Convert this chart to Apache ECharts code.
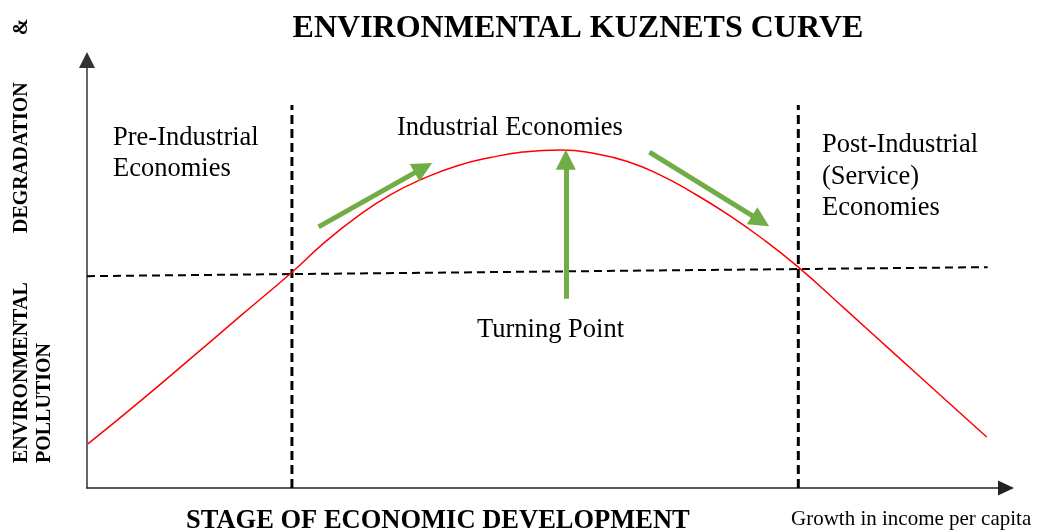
<!DOCTYPE html>
<html><head><meta charset="utf-8">
<script src="https://cdn.jsdelivr.net/npm/echarts@6/dist/echarts.min.js"></script>
<style>html,body{margin:0;padding:0;background:#fff}#c{width:1037px;height:530px}</style>
</head><body><div id="c"></div>
<script>
// Kuznets curve (schematic units: x = income stage 0-100, y = pollution 0-100)
const curveX = [0.1, 5.8, 11.2, 16.7, 22.3, 25.7, 29.4, 33.0, 36.6, 40.3, 43.9, 47.4, 51.6, 55.1, 58.8, 62.4, 65.9, 69.6, 73.2, 77.4, 82.5, 87.7, 92.8, 97.9];
const curveY = [10.3, 20.3, 30.1, 40.2, 50.4, 57.1, 63.4, 68.5, 72.3, 75.3, 77.2, 78.5, 79.0, 78.2, 76.3, 73.1, 69.0, 64.1, 58.7, 51.6, 41.8, 31.7, 21.8, 11.9];
// reference (threshold) dashed line
const thresholdX = [0, 98.0];
const thresholdY = [49.5, 51.6];
// stage boundaries
const boundaryX = [22.3, 77.4];
const boundaryY = [0, 89.5];
// green arrows: from / to
const arrowsFrom = [[25.2, 61.0], [52.1, 44.2], [61.2, 78.5]];
const arrowsTo = [[36.6, 74.8], [52.1, 76.7], [73.3, 62.4]];
// texts
const titleText = 'ENVIRONMENTAL KUZNETS CURVE';
const stageLabels = ['Pre-Industrial\nEconomies', 'Industrial Economies', 'Post-Industrial\n(Service)\nEconomies', 'Turning Point'];
const xAxisTitle = 'STAGE OF ECONOMIC DEVELOPMENT';
const xAxisNote = 'Growth in income per capita';
const yAxisWords = ['ENVIRONMENTAL', 'DEGRADATION', '&', 'POLLUTION'];

const serif = '"Liberation Serif", "Times New Roman", serif';
const chart = echarts.init(document.getElementById('c'));

const curveData = curveX.map((x, i) => [x, curveY[i]]);
const thresholdData = thresholdX.map((x, i) => [x, thresholdY[i]]);

const series = [
  {
    type: 'line', data: thresholdData, showSymbol: false, silent: true, z: 2,
    lineStyle: { color: '#000', width: 2, type: [8, 5] }
  }
];
boundaryX.forEach(bx => {
  series.push({
    type: 'line', data: boundaryY.map(by => [bx, by]), showSymbol: false, silent: true, z: 2,
    lineStyle: { color: '#000', width: 3, type: [9, 5] }
  });
});
series.push({
  type: 'line', data: curveData, smooth: 0.5, showSymbol: false, silent: true, z: 3,
  lineStyle: { color: '#FF0000', width: 1.5 }
});
series.push({
  type: 'line', data: [], silent: true, z: 4,
  markLine: {
    silent: true, animation: false,
    symbol: ['none', 'triangle'], symbolSize: 20,
    label: { show: false },
    lineStyle: { color: '#70AD47', width: 5, type: 'solid' },
    emphasis: { disabled: true },
    data: arrowsFrom.map((f, i) => [{ coord: f }, { coord: arrowsTo[i] }])
  }
});

const txt = (text, x, y, size, opts) => Object.assign({
  type: 'text', x: x, y: y, silent: true,
  style: Object.assign({ text: text, font: size + 'px ' + serif, fill: '#000', align: 'left', verticalAlign: 'middle' }, (opts && opts.style) || {})
}, opts && opts.el || {});

const graphics = [
  txt(titleText, 578, 29, 32, { style: { font: 'bold 32px ' + serif, align: 'center' } }),
  txt(stageLabels[0], 113, 154, 26.5, { style: { lineHeight: 31 } }),
  txt(stageLabels[1], 397, 128, 26.5),
  txt(stageLabels[2], 822, 177, 26.5, { style: { lineHeight: 31.5 } }),
  txt(stageLabels[3], 477, 330, 26.5),
  txt(xAxisTitle, 186, 521, 26.5, { style: { font: 'bold 26.5px ' + serif } }),
  txt(xAxisNote, 791, 519, 21),
  txt(yAxisWords[0], 22, 463, 20, { style: { font: 'bold 20px ' + serif }, el: { rotation: Math.PI / 2 } }),
  txt(yAxisWords[1], 22, 233, 20, { style: { font: 'bold 20px ' + serif }, el: { rotation: Math.PI / 2 } }),
  txt(yAxisWords[2], 22, 27, 20, { style: { font: 'bold 20px ' + serif, align: 'center' }, el: { rotation: Math.PI / 2 } }),
  txt(yAxisWords[3], 45, 463, 20, { style: { font: 'bold 20px ' + serif }, el: { rotation: Math.PI / 2 } })
];

chart.setOption({
  animation: false,
  backgroundColor: '#fff',
  grid: { left: 87, right: 31, top: 60, bottom: 42, containLabel: false },
  xAxis: {
    type: 'value', min: 0, max: 100,
    axisLine: { show: true, onZero: false, symbol: ['none', 'triangle'], symbolSize: [15, 16], lineStyle: { color: '#222', width: 1.5 } },
    axisTick: { show: false }, axisLabel: { show: false }, splitLine: { show: false }
  },
  yAxis: {
    type: 'value', min: 0, max: 100,
    axisLine: { show: true, onZero: false, symbol: ['none', 'triangle'], symbolSize: [16, 16], lineStyle: { color: '#333', width: 1.5 } },
    axisTick: { show: false }, axisLabel: { show: false }, splitLine: { show: false }
  },
  series: series,
  graphic: graphics
});
</script>
</body></html>
